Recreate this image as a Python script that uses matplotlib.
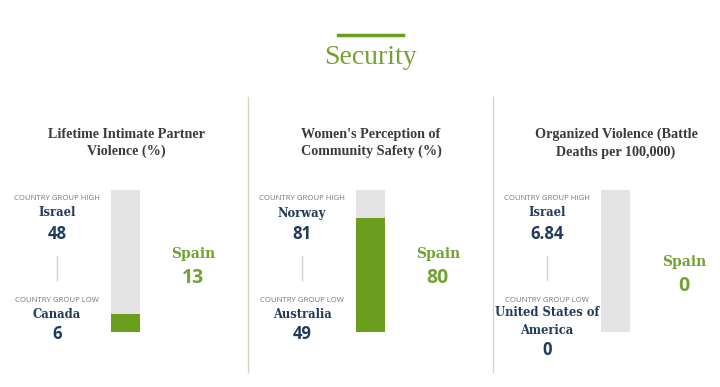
import matplotlib.pyplot as plt

# data
titles = ['Lifetime Intimate Partner\nViolence (%)',
          "Women's Perception of\nCommunity Safety (%)",
          'Organized Violence (Battle\nDeaths per 100,000)']
high_countries = ['Israel', 'Norway', 'Israel']
high_values = ['48', '81', '6.84']
low_countries = ['Canada', 'Australia', 'United States of\nAmerica']
low_values = ['6', '49', '0']
spain_values = [13, 80, 0]
spain_labels = ['13', '80', '0']
bar_max = [100, 100, 100]

GREEN = '#6b9e1f'
GREEN_TXT = '#72a232'
NAVY = '#1f3a5c'
GRAY = '#e3e3e3'

W, H = 720, 387
fig = plt.figure(figsize=(W / 100, H / 100), dpi=100)
fig.patch.set_facecolor('white')


def fx(px):
    return px / W


def fy(py):
    return 1 - py / H


# header
fig.add_artist(plt.Line2D([fx(338), fx(403)], [fy(35), fy(35)], color=GREEN, lw=2.5))
fig.text(fx(370), fy(58), 'Security', color=GREEN_TXT, fontsize=20,
         family='Liberation Serif', ha='center', va='center')

# dividers
for x in [248, 493]:
    fig.add_artist(plt.Line2D([fx(x), fx(x)], [fy(97), fy(372)], color='#cfd8c0', lw=1))

for i in range(3):
    off = 245 * i
    fig.text(fx(126 + off), fy(143), titles[i], ha='center', va='center', fontsize=10.2,
             family='Liberation Serif', weight='bold', color='#3a3a3a', linespacing=1.4)

    # bar
    ax = fig.add_axes([fx(111 + off), fy(332), fx(29), 142 / H])
    ax.bar(0, bar_max[i], width=1, color=GRAY)
    ax.bar(0, spain_values[i], width=1, color=GREEN)
    ax.set_xlim(-0.5, 0.5)
    ax.set_ylim(0, bar_max[i])
    ax.axis('off')

    lx = 57 + off
    fig.text(fx(lx), fy(199), 'COUNTRY GROUP HIGH', ha='center', va='center',
             fontsize=5.6, family='Open Sans', color='#777777')
    fig.text(fx(lx), fy(213), high_countries[i], ha='center', va='center', fontsize=8.3,
             family='DejaVu Serif', weight='bold', color=NAVY)
    fig.text(fx(lx), fy(234), high_values[i], ha='center', va='center', fontsize=12,
             family='Open Sans', weight='bold', color=NAVY)
    fig.add_artist(plt.Line2D([fx(lx), fx(lx)], [fy(256), fy(280)], color='#cccccc', lw=1))
    fig.text(fx(lx), fy(300), 'COUNTRY GROUP LOW', ha='center', va='center',
             fontsize=5.6, family='Open Sans', color='#777777')
    if '\n' in low_countries[i]:
        fig.text(fx(lx), fy(322), low_countries[i], ha='center', va='center', fontsize=8.3,
                 family='DejaVu Serif', weight='bold', color=NAVY, linespacing=1.5)
        ly = 350
    else:
        fig.text(fx(lx), fy(314), low_countries[i], ha='center', va='center', fontsize=8.3,
                 family='DejaVu Serif', weight='bold', color=NAVY)
        ly = 334
    fig.text(fx(lx), fy(ly), low_values[i], ha='center', va='center', fontsize=12,
             family='Open Sans', weight='bold', color=NAVY)

    sx = 193 + off + (1 if i == 2 else 0)
    dy = 8 if i == 2 else 0
    fig.text(fx(sx), fy(254 + dy), 'Spain', ha='center', va='center',
             fontsize=10, family='DejaVu Serif', weight='bold', color=GREEN_TXT)
    fig.text(fx(sx), fy(278 + dy), spain_labels[i], ha='center', va='center',
             fontsize=14, family='Open Sans', weight='bold', color=GREEN_TXT)

fig.savefig('out.png', dpi=100)
